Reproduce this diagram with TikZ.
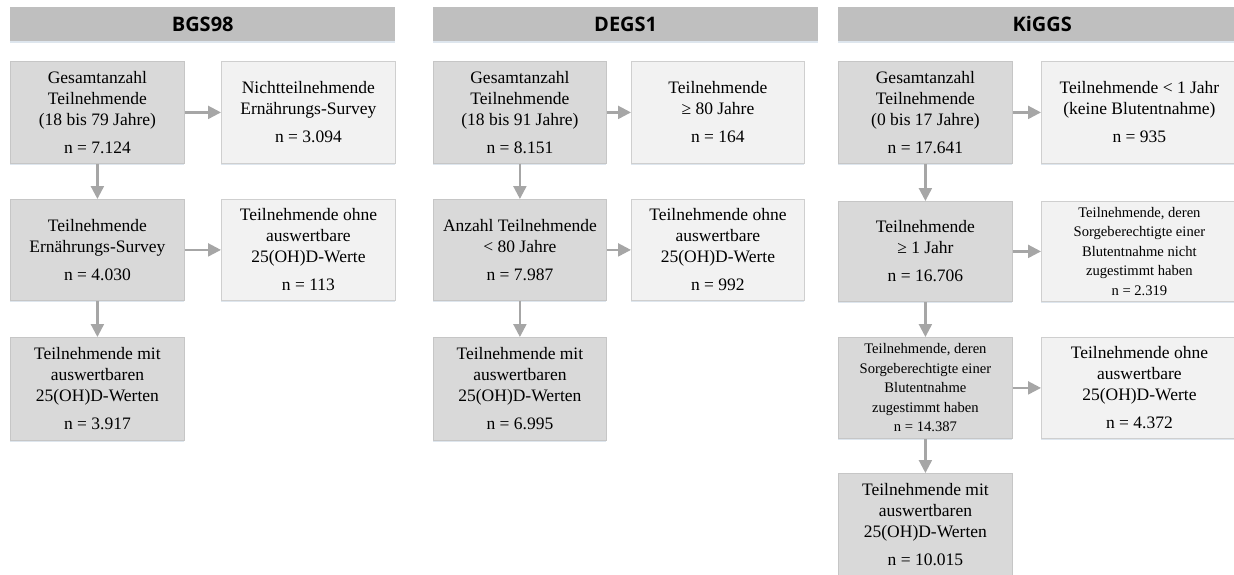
\documentclass[tikz,border=0pt]{standalone}
\usepackage{fontspec}
\setmainfont{Liberation Serif}
\newfontfamily\headfont{Open Sans}
\usetikzlibrary{arrows.meta,shadows}
\definecolor{headgray}{HTML}{BFBFBF}
\definecolor{darkfill}{HTML}{D9D9D9}
\definecolor{lightfill}{HTML}{F2F2F2}
\definecolor{darkline}{HTML}{C6C6C6}
\definecolor{lightline}{HTML}{CFCFCF}
\definecolor{arrowgray}{HTML}{A6A6A6}
\definecolor{shadowcol}{HTML}{D6E0EA}
\tikzset{
  shade/.style={drop shadow={shadow xshift=0pt,shadow yshift=-2pt,fill=shadowcol,opacity=0.8}},
  headbox/.style={rectangle,fill=headgray,draw=none,anchor=north west,inner sep=0pt,
    minimum height=34pt,font=\headfont\bfseries\fontsize{20}{24}\selectfont,shade},
  basebox/.style={rectangle,anchor=north west,inner sep=2pt,align=center,line width=0.8pt,
    font=\fontsize{17.5}{21}\selectfont,shade},
  darkbox/.style={basebox,fill=darkfill,draw=darkline},
  lightbox/.style={basebox,fill=lightfill,draw=lightline},
  smalltext/.style={font=\fontsize{14.6}{19.5}\selectfont},
  flow/.style={draw=arrowgray,line width=2.3pt,-{Triangle[width=13pt,length=13pt]}}
}
\newcommand{\nline}[1]{\\[7pt]n = #1}
\begin{document}
\begin{tikzpicture}[x=1pt,y=1pt]
\useasboundingbox (0,0) rectangle (1234,-574);
\clip (0,0) rectangle (1234,-574);
% headers
\node[headbox,minimum width=385pt] (hBGS) at (10,-7) {BGS98};
\node[headbox,minimum width=385pt] (hDEGS) at (433,-7) {DEGS1};
\node[headbox,minimum width=408pt] (hKIGGS) at (838,-7) {KiGGS};
% BGS98
\node[darkbox,minimum width=174pt,minimum height=102pt] (b1) at (10,-61)
  {Gesamtanzahl\\Teilnehmende\\(18 bis 79 Jahre)\nline{7.124}};
\node[lightbox,minimum width=174pt,minimum height=102pt] (b2) at (221,-61)
  {Nichtteilnehmende\\Ernährungs-Survey\nline{3.094}};
\node[darkbox,minimum width=174pt,minimum height=101pt] (b3) at (10,-199)
  {Teilnehmende\\Ernährungs-Survey\nline{4.030}};
\node[lightbox,minimum width=174pt,minimum height=101pt] (b4) at (221,-199)
  {Teilnehmende ohne\\auswertbare\\25(OH)D-Werte\nline{113}};
\node[darkbox,minimum width=174pt,minimum height=103pt] (b5) at (10,-337)
  {Teilnehmende mit\\auswertbaren\\25(OH)D-Werten\nline{3.917}};
% DEGS1
\node[darkbox,minimum width=173pt,minimum height=102pt] (d1) at (433,-61)
  {Gesamtanzahl\\Teilnehmende\\(18 bis 91 Jahre)\nline{8.151}};
\node[lightbox,minimum width=173pt,minimum height=102pt] (d2) at (631,-61)
  {Teilnehmende\\≥ 80 Jahre\nline{164}};
\node[darkbox,minimum width=173pt,minimum height=101pt] (d3) at (433,-199)
  {Anzahl Teilnehmende\\< 80 Jahre\nline{7.987}};
\node[lightbox,minimum width=173pt,minimum height=101pt] (d4) at (631,-199)
  {Teilnehmende ohne\\auswertbare\\25(OH)D-Werte\nline{992}};
\node[darkbox,minimum width=173pt,minimum height=103pt] (d5) at (433,-337)
  {Teilnehmende mit\\auswertbaren\\25(OH)D-Werten\nline{6.995}};
% KiGGS
\node[darkbox,minimum width=174pt,minimum height=102pt] (k1) at (838,-61)
  {Gesamtanzahl\\Teilnehmende\\(0 bis 17 Jahre)\nline{17.641}};
\node[lightbox,minimum width=196pt,minimum height=102pt] (k2) at (1041,-61)
  {Teilnehmende < 1 Jahr\\(keine Blutentnahme)\nline{935}};
\node[darkbox,minimum width=174pt,minimum height=100pt] (k3) at (838,-201)
  {Teilnehmende\\≥ 1 Jahr\nline{16.706}};
\node[lightbox,smalltext,minimum width=196pt,minimum height=100pt] (k4) at (1041,-201)
  {Teilnehmende, deren\\Sorgeberechtigte einer\\Blutentnahme nicht\\zugestimmt haben\\n = 2.319};
\node[darkbox,smalltext,minimum width=174pt,minimum height=101pt] (k5) at (838,-337)
  {Teilnehmende, deren\\Sorgeberechtigte einer\\Blutentnahme\\zugestimmt haben\\n = 14.387};
\node[lightbox,minimum width=196pt,minimum height=101pt] (k6) at (1041,-337)
  {Teilnehmende ohne\\auswertbare\\25(OH)D-Werte\nline{4.372}};
\node[darkbox,minimum width=174pt,minimum height=103pt] (k7) at (838,-473)
  {Teilnehmende mit\\auswertbaren\\25(OH)D-Werten\nline{10.015}};
% arrows
\draw[flow] (b1) -- (b2);
\draw[flow] (b1) -- (b3);
\draw[flow] (b3) -- (b4);
\draw[flow] (b3) -- (b5);
\draw[flow] (d1) -- (d2);
\draw[flow] (d1) -- (d3);
\draw[flow] (d3) -- (d4);
\draw[flow] (d3) -- (d5);
\draw[flow] (k1.east) -- (k1.east -| k2.west);
\draw[flow] (k1) -- (k3);
\draw[flow] (k3.east) -- (k3.east -| k4.west);
\draw[flow] (k3) -- (k5);
\draw[flow] (k5.east) -- (k5.east -| k6.west);
\draw[flow] (k5) -- (k7);
\end{tikzpicture}
\end{document}
